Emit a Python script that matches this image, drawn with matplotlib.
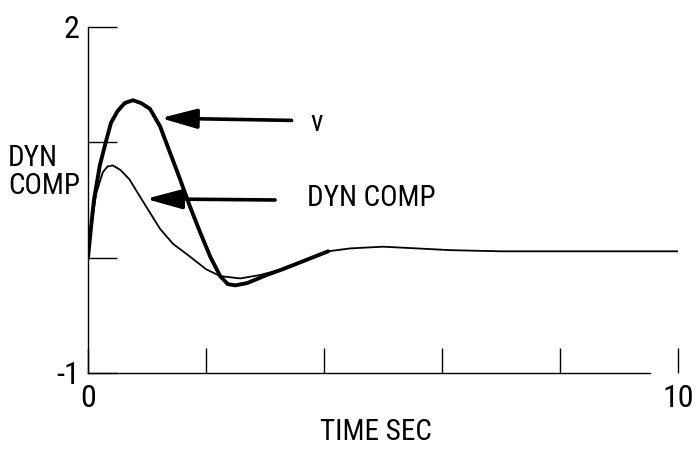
import matplotlib
matplotlib.use("Agg")
import matplotlib.pyplot as plt

plt.rcParams['font.family'] = ['Roboto Condensed', 'Liberation Sans Narrow', 'DejaVu Sans']

# response of v (heavy line) over the first few seconds
v_t = [0, 0.05, 0.1, 0.2, 0.3, 0.39, 0.5, 0.62, 0.76, 0.9, 1.05, 1.22, 1.39,
       1.56, 1.73, 1.9, 2.07, 2.24, 2.37, 2.5, 2.7, 3.03, 3.3, 3.6, 4.07]
v_y = [0, 0.26, 0.5, 0.8, 1.0, 1.17, 1.27, 1.34, 1.365, 1.34, 1.29, 1.14, 0.91,
       0.68, 0.44, 0.22, 0.01, -0.16, -0.23, -0.24, -0.22, -0.15, -0.1, -0.04, 0.055]

# dynamic compensation output (light line)
dc_t = [0, 0.04, 0.08, 0.14, 0.25, 0.33, 0.42, 0.55, 0.7, 0.88, 1.05, 1.22, 1.44,
        1.7, 2.0, 2.24, 2.58, 2.92, 3.3, 3.6, 4.07, 4.44, 5.0, 5.58, 6.14, 7, 8, 9, 10]
dc_y = [0, 0.18, 0.36, 0.56, 0.74, 0.79, 0.80, 0.76, 0.68, 0.53, 0.39, 0.25, 0.12,
        0.02, -0.10, -0.16, -0.18, -0.15, -0.1, -0.04, 0.055, 0.08, 0.095, 0.08, 0.065,
        0.055, 0.055, 0.055, 0.055]

x_ticks = [0, 2, 4, 6, 8, 10]
x_labels = ['0', '', '', '', '', '10']
y_ticks = [-1, 0, 1, 2]
y_labels = ['-1', '', '', '2']

fig = plt.figure(figsize=(6.97, 4.49), dpi=100)
ax = fig.add_axes([0.1263, 0.1693, 0.8464, 0.7706])

ax.plot(dc_t, dc_y, color='black', lw=1.3)
ax.plot(v_t, v_y, color='black', lw=2.8, solid_capstyle='round', solid_joinstyle='round')

ax.set_xlim(0, 10)
ax.set_ylim(-1, 2)
ax.set_xticks(x_ticks)
ax.set_xticklabels(x_labels)
ax.set_yticks(y_ticks)
ax.set_yticklabels(y_labels)
ax.tick_params(axis='x', direction='in', length=18, width=1, pad=8, labelsize=23)
ax.tick_params(axis='y', direction='in', length=21, width=1, pad=6, labelsize=23)

for side in ('top', 'right'):
    ax.spines[side].set_visible(False)
ax.spines['bottom'].set_bounds(0, 9.53)
ax.spines['left'].set_linewidth(1)
ax.spines['bottom'].set_linewidth(1)

arrow = dict(arrowstyle='-|>,head_length=2.2,head_width=0.6', color='black',
             lw=2.6, shrinkA=0, shrinkB=0)
ax.annotate('', xy=(1.23, 1.21), xytext=(3.45, 1.19), arrowprops=arrow)
ax.text(3.76, 1.17, 'v', fontsize=21, va='center', ha='left')
ax.annotate('', xy=(0.98, 0.51), xytext=(3.17, 0.50), arrowprops=arrow)
ax.text(3.71, 0.52, 'DYN COMP', fontsize=21, va='center', ha='left')

fig.text(8 / 697, 1 - 172 / 449, 'DYN\nCOMP', fontsize=21, va='center', ha='left',
         linespacing=1.0)
fig.text(376 / 697, 1 - 432 / 449, 'TIME SEC', fontsize=21, va='center', ha='center')

fig.savefig('out.png', dpi=100)
